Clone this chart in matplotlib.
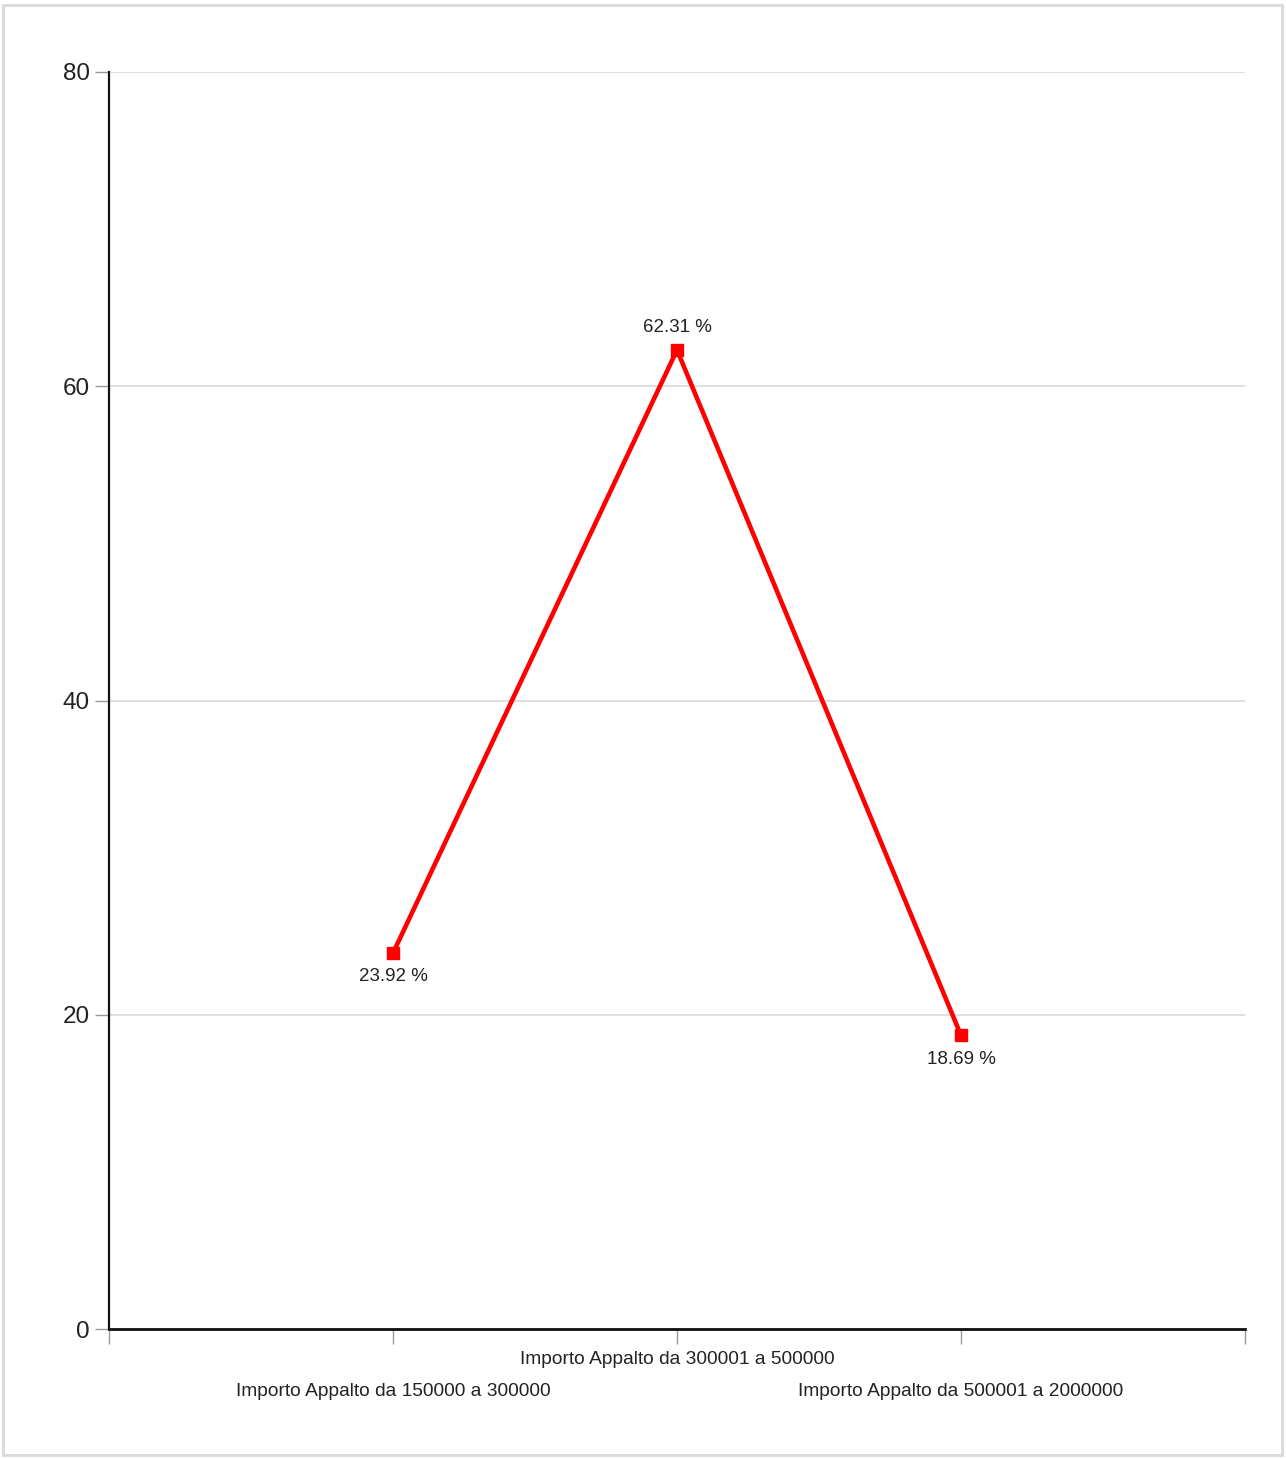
import matplotlib.pyplot as plt
from matplotlib.patches import Rectangle

# Data
categories = [
    "Importo Appalto da 150000 a 300000",
    "Importo Appalto da 300001 a 500000",
    "Importo Appalto da 500001 a 2000000",
]
values = [23.92, 62.31, 18.69]
y_ticks = [0, 20, 40, 60, 80]

plt.rcParams["font.family"] = ["Liberation Sans", "DejaVu Sans"]

fig = plt.figure(figsize=(12.86, 14.59), dpi=100)
ax = fig.add_axes([109 / 1286, 1 - 1329 / 1459, 1136 / 1286, 1257 / 1459])

# light frame around the whole chart
fig.patches.append(Rectangle((3 / 1286, 4 / 1459), 1279 / 1286, 1450 / 1459,
                             transform=fig.transFigure, fill=False,
                             edgecolor="#d9d9d9", linewidth=2))

x = list(range(1, len(values) + 1))
ax.plot(x, values, color="#ff0000", linewidth=3.3, marker="s", markersize=8,
        markeredgecolor="#ff0000", zorder=3, clip_on=False)

# value labels: above for the peak, below for the others
for xi, v in zip(x, values):
    if v == max(values):
        ax.annotate(f"{v:.2f} %", (xi, v), xytext=(0, 10), textcoords="offset points",
                    ha="center", va="bottom", fontsize=13.5, color="#222222")
    else:
        ax.annotate(f"{v:.2f} %", (xi, v), xytext=(0, -11), textcoords="offset points",
                    ha="center", va="top", fontsize=13.5, color="#222222")

ax.set_xlim(0, len(values) + 1)
ax.set_ylim(0, 80)
ax.set_yticks(y_ticks)
ax.set_yticklabels([str(t) for t in y_ticks], fontsize=17.5, color="#222222")
ax.grid(axis="y", color="#dcdcdc", linewidth=1.3)
ax.set_axisbelow(True)

ax.set_xticks(range(0, len(values) + 2))
ax.set_xticklabels([""] + categories + [""], fontsize=13.8, color="#222222")
for i, tick in enumerate(ax.xaxis.get_major_ticks()):
    tick.set_pad(5 if i == 2 else 28)

ax.tick_params(axis="x", length=11, width=1, color="#999999")
ax.tick_params(axis="y", length=10, width=1, color="#999999", pad=4)

for side in ["top", "right"]:
    ax.spines[side].set_visible(False)
ax.spines["left"].set_linewidth(1.6)
ax.spines["bottom"].set_linewidth(2)
ax.spines["left"].set_color("#111111")
ax.spines["bottom"].set_color("#111111")

fig.savefig("out.png", dpi=100, facecolor="white")
